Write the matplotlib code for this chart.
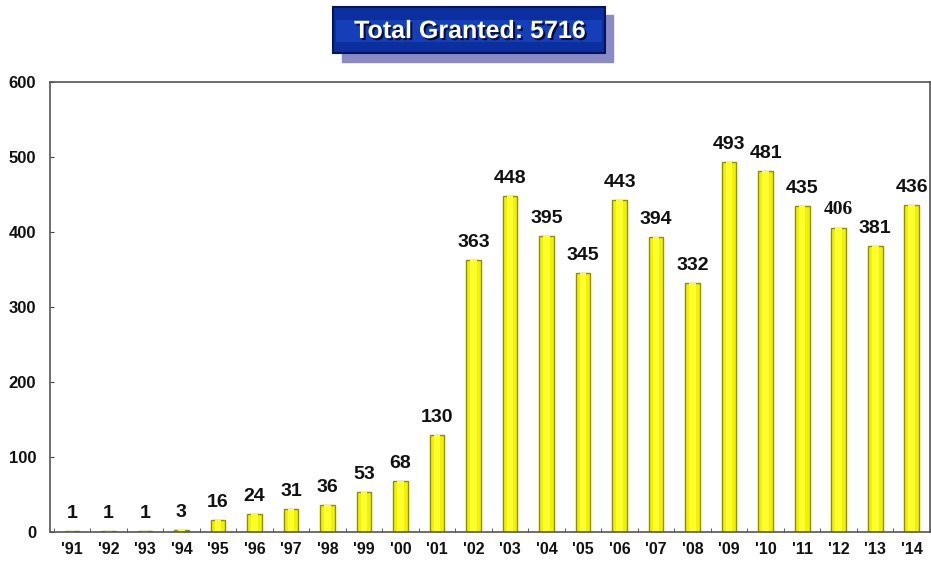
import matplotlib.pyplot as plt
import matplotlib.patheffects as pe
from matplotlib.patches import Rectangle
import numpy as np

years = ["'91", "'92", "'93", "'94", "'95", "'96", "'97", "'98", "'99", "'00",
         "'01", "'02", "'03", "'04", "'05", "'06", "'07", "'08", "'09", "'10",
         "'11", "'12", "'13", "'14"]
granted = [1, 1, 1, 3, 16, 24, 31, 36, 53, 68, 130, 363, 448, 395, 345,
           443, 394, 332, 493, 481, 435, 406, 381, 436]
total = 5716

plt.rcParams['font.family'] = ['Liberation Sans', 'DejaVu Sans']

fig = plt.figure(figsize=(9.31, 5.63), dpi=100)
ax = fig.add_axes([50 / 931, 31 / 563, 880 / 931, 450 / 563])

x = np.arange(len(years))
ax.bar(x, granted, width=0.4, color='#F2F200', edgecolor='#8E8E00', linewidth=1.0)
# lighter core to fake the gradient
ax.bar(x, granted, width=0.18, color='#FFFF30', linewidth=0)

for i, v in enumerate(granted):
    fam = 'Liberation Serif' if years[i] == "'12" else 'Liberation Sans'
    ax.text(i, v + 12, str(v), ha='center', va='bottom', fontsize=14,
            fontweight='bold', family=fam, color='#111111')

ax.set_xlim(-0.6, 23.45)
ax.set_ylim(0, 600)
ax.set_yticks(range(0, 601, 100))
ax.set_xticks(x)
ax.set_xticklabels(years)
ax.set_xticks(np.arange(-0.5, 23.6, 1), minor=True)
ax.tick_params(axis='x', which='major', length=0, pad=7, labelsize=11.5)
ax.tick_params(axis='x', which='minor', length=3, direction='in', color='#444444')
ax.tick_params(axis='y', length=3, direction='in', pad=10, labelsize=12, color='#444444')
for lbl in ax.get_xticklabels() + ax.get_yticklabels():
    lbl.set_fontweight('bold')
    lbl.set_color('#111111')
for s in ax.spines.values():
    s.set_color('#555555')
    s.set_linewidth(1.2)

# title box with shadow
W, H = 931, 563
fig.patches.append(Rectangle((342 / W, 1 - 62 / H), 271 / W, 47 / H,
                             transform=fig.transFigure, color='#8A8AC6', zorder=1))
fig.patches.append(Rectangle((333 / W, 1 - 53 / H), 272 / W, 46 / H,
                             transform=fig.transFigure, facecolor='#0B2F9E',
                             edgecolor='#05155A', linewidth=1.5, zorder=2))
fig.patches.append(Rectangle((336 / W, 1 - 42 / H), 266 / W, 22 / H,
                             transform=fig.transFigure, facecolor='#1846C4',
                             linewidth=0, zorder=3, alpha=0.7))
fig.text(470 / W, 1 - 31 / H, 'Total Granted: %d' % total, ha='center', va='center',
         fontsize=18, fontweight='bold', color='white', zorder=5,
         path_effects=[pe.withSimplePatchShadow(offset=(1.5, -1.5), shadow_rgbFace='#000022', alpha=0.8)])

fig.savefig('out.png', dpi=100)
